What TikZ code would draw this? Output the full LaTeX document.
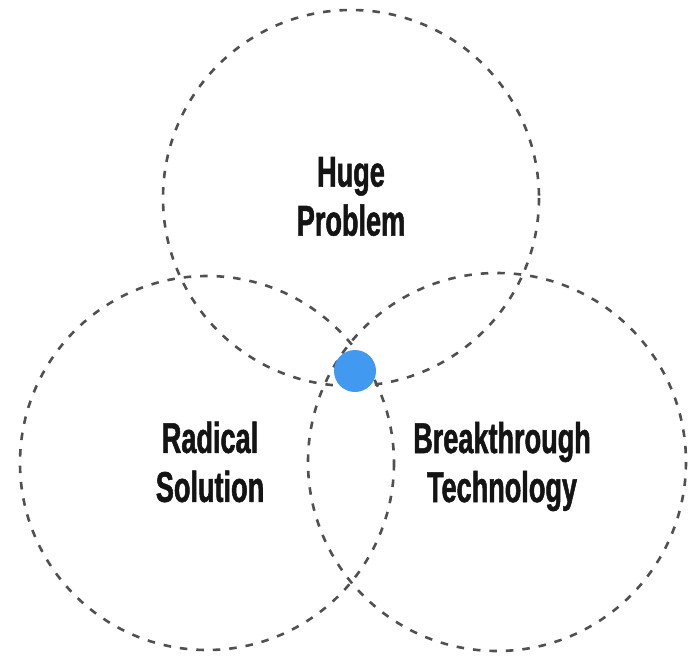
\documentclass[tikz,border=0pt]{standalone}
\usepackage{fontspec}
\newfontfamily\condfont{Liberation Sans Bold}[FakeStretch=0.63,FakeBold=1.2]
\definecolor{dashgray}{RGB}{80,80,80}
\definecolor{dotblue}{RGB}{66,153,240}
\definecolor{txt}{RGB}{20,20,20}
\begin{document}
\begin{tikzpicture}[x=1pt,y=-1pt,
  ring/.style={draw=dashgray,line width=2.6pt,dash pattern=on 7.5pt off 9pt},
  lbl/.style={inner sep=0pt,align=center,text=txt,font={\condfont\fontsize{43}{49}\selectfont}}]
\useasboundingbox (0,0) rectangle (689,656);
\fill[white] (0,0) rectangle (689,656);
\draw[ring] (351,198) circle[radius=188];
\draw[ring] (207,463) circle[radius=187];
\draw[ring] (497,462) circle[radius=189];
\node[circle,fill=dotblue,minimum size=42pt,inner sep=0pt] (dot) at (355,371) {};
\node[lbl] (huge) at (351,196.5) {Huge\\Problem};
\node[lbl] (rad) at (210,462) {Radical\\Solution};
\node[lbl] (tech) at (502,466.5) {Breakthrough\\Technology};
\end{tikzpicture}
\end{document}
